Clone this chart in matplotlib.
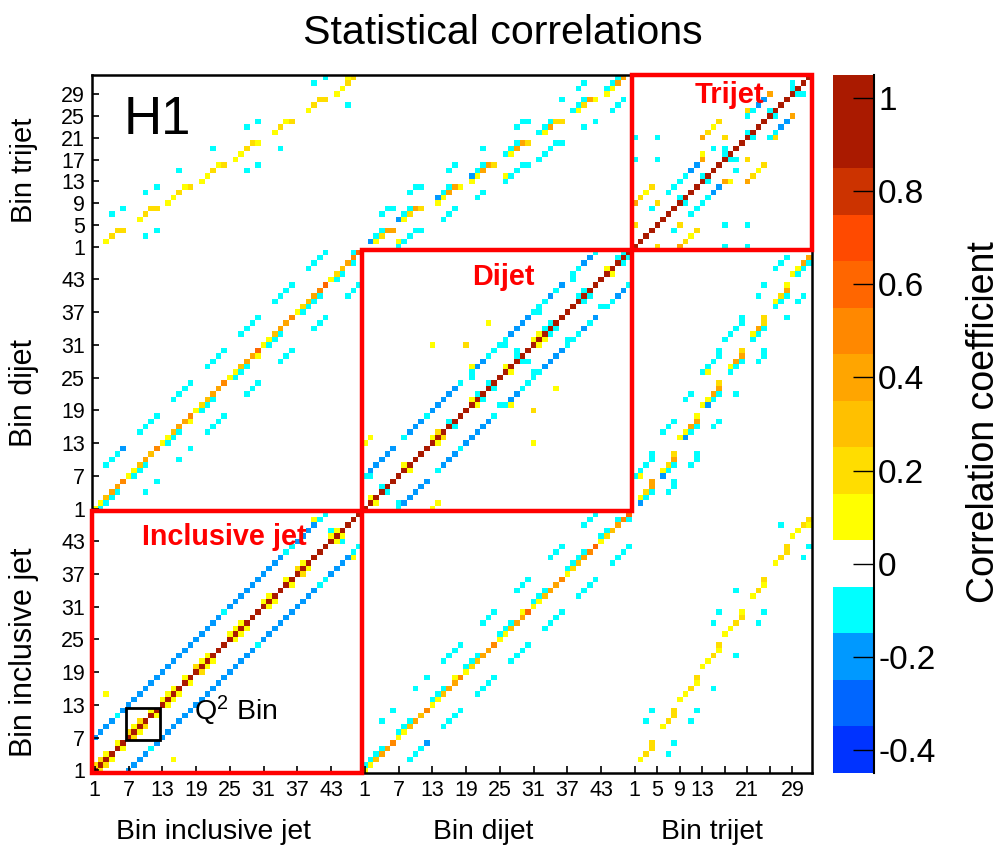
import numpy as np
import matplotlib
matplotlib.use('Agg')
import matplotlib.pyplot as plt
from matplotlib.colors import ListedColormap, BoundaryNorm
from matplotlib.patches import Rectangle

plt.rcParams['font.family'] = 'Liberation Sans'

n_inc, n_dij, n_tri = 48, 48, 32

levels = [-0.45, -0.35, -0.25, -0.15, -0.05, 0.05, 0.15, 0.25, 0.35, 0.45, 0.55, 0.65, 0.75, 0.85, 1.05]
colors = ['#0033ff', '#0066ff', '#0099ff', '#00ffff', '#ffffff', '#ffff00', '#ffdd00',
          '#ffc000', '#ffa500', '#ff8800', '#ff6600', '#ff4a00', '#cc3300', '#aa1a00']

diag_value = 1.0

# all cells are (x bin, y bin), 1-based inside their block; the matrix is symmetric

# inclusive / inclusive
ii_blue = [(1, 7), (2, 8), (3, 9), (4, 10), (6, 12), (7, 13), (8, 14), (9, 15), (10, 16), (11, 17), (12, 18),
           (13, 19), (14, 20), (15, 21), (16, 22), (17, 23), (18, 24), (19, 25), (20, 26), (21, 27), (22, 28),
           (23, 29), (25, 31), (26, 32), (27, 33), (28, 34), (29, 35), (30, 36), (31, 37), (32, 38), (33, 39),
           (34, 40), (37, 43), (38, 44), (39, 45), (40, 46)]
ii_cyan = [(5, 11), (24, 30), (35, 41), (36, 42), (41, 47), (42, 48), (43, 45)]
ii_yellow = [(3, 4), (5, 6), (8, 9), (11, 12), (13, 14), (14, 15), (15, 16), (17, 18), (20, 21), (21, 22),
             (25, 26), (26, 27), (27, 28), (31, 32), (32, 33), (35, 36), (38, 39), (43, 44), (44, 45),
             (3, 15), (40, 47)]
ii_gold = [(1, 2), (2, 3), (7, 8), (9, 10), (19, 20), (37, 38)]

# dijet / dijet
dd_blue = [(2, 8), (3, 9), (4, 10), (5, 11), (6, 12), (9, 15), (10, 16), (11, 17), (13, 19), (14, 20), (15, 21),
           (16, 22), (17, 23), (21, 27), (22, 28), (27, 33), (28, 34), (29, 35), (30, 36), (34, 40), (36, 42),
           (40, 46), (41, 47)]
dd_cyan = [(1, 7), (2, 7), (8, 14), (12, 18), (18, 24), (20, 25), (20, 26), (23, 29), (24, 30), (25, 31), (26, 31),
           (26, 32), (31, 37), (32, 37), (32, 38), (33, 39), (35, 41), (38, 43), (38, 44), (39, 45), (42, 48),
           (4, 5), (16, 17), (21, 22), (23, 24), (28, 29), (28, 30), (33, 34), (34, 35), (39, 40), (40, 41),
           (46, 47), (47, 48)]
dd_yellow = [(2, 3), (8, 9), (13, 14), (20, 21), (26, 27), (31, 32), (32, 33), (44, 45),
             (2, 14), (1, 13), (20, 27), (23, 35), (13, 31)]
dd_gold = [(14, 15), (19, 31)]

# trijet / trijet
tt_blue = [(11, 15), (12, 16), (23, 27), (24, 28)]
tt_cyan = [(4, 8), (7, 11), (8, 12), (9, 13), (10, 14), (9, 10), (13, 14), (15, 19), (17, 18), (17, 19), (21, 22),
           (21, 25), (22, 26), (25, 26), (29, 30), (29, 31), (1, 17), (5, 17), (1, 21), (5, 21)]
tt_yellow = [(3, 11), (15, 23), (13, 18)]
tt_gold = [(1, 5), (5, 9), (2, 10), (4, 12), (14, 22), (16, 24), (17, 21), (21, 26)]
tt_orange = [(1, 9), (13, 17), (13, 21), (25, 29)]

# x = dijet, y = inclusive
id_diag = [0.1, 0.1, 0.3, 0.4, 0.4, 0.5, 0.1, 0.1, 0.3, 0.35, 0.3, 0.5, 0.1, 0.1, 0.3, 0.35, 0.4, 0.5,
           0.1, 0.2, 0.3, 0.4, 0.4, 0.5, 0.1, 0.1, 0.3, 0.35, 0.4, 0.55, 0.1, 0.1, 0.3, 0.35, 0.4, 0.5,
           0.1, 0.2, 0.3, 0.35, 0.5, 0.6, 0.1, 0.2, 0.3, 0.4, 0.5, 0.6]
id_blue = [(12, 6)]
id_yellow = [(17, 18), (29, 30)]
id_cyan = [(1, 2), (2, 3), (3, 4), (4, 5), (7, 8), (8, 9), (9, 10), (13, 14), (14, 15), (15, 16), (19, 20), (20, 21),
           (21, 22), (25, 26), (26, 27), (27, 28), (31, 32), (32, 33), (33, 34), (37, 38), (38, 39), (39, 40), (40, 41),
           (43, 44), (44, 45), (46, 47), (48, 47),
           (9, 3), (10, 4), (11, 5), (4, 10), (6, 12), (15, 9), (16, 10), (17, 11), (18, 12), (10, 16), (12, 18),
           (21, 15), (22, 16), (23, 17), (24, 18), (15, 21), (16, 22), (17, 23), (18, 24), (27, 21), (28, 22), (29, 23),
           (30, 24), (22, 28), (23, 29), (24, 30), (33, 27), (34, 28), (35, 29), (36, 30), (28, 34), (29, 35), (30, 36),
           (39, 33), (40, 34), (41, 35), (42, 36), (34, 40), (35, 41), (36, 42), (45, 39), (46, 40), (47, 41), (48, 42),
           (40, 46), (41, 47), (42, 48)]

# x = trijet, y = inclusive
it_yellow = [(2, 3), (6, 9), (9, 14), (10, 15), (12, 17), (13, 20), (14, 21), (16, 23), (17, 26), (18, 27), (20, 30),
             (22, 33), (24, 35), (26, 39), (29, 44), (30, 45), (32, 46)]
it_gold = [(3, 4), (4, 5), (4, 6), (7, 10), (8, 11), (8, 12), (11, 16), (12, 18), (15, 22), (16, 24), (19, 28), (20, 29),
           (23, 34), (24, 36), (27, 40), (28, 41), (28, 42), (31, 46), (32, 47)]
it_cyan = [(7, 4), (8, 6), (3, 10), (4, 12), (11, 10), (12, 12), (15, 16), (19, 22), (15, 28), (16, 30), (23, 28), (24, 30),
           (19, 34), (31, 40), (32, 42), (27, 46)]

# x = trijet, y = dijet
dt_blue = [(2, 2), (6, 7), (10, 14), (14, 20)]
dt_yellow = [(2, 3), (6, 8), (2, 7), (9, 14), (10, 15), (12, 18), (13, 20), (14, 21), (14, 26), (18, 27), (22, 33), (26, 39),
             (28, 42), (29, 44), (30, 45)]
dt_gold = [(3, 4), (7, 9), (8, 11), (16, 24), (20, 30), (24, 35), (24, 36), (27, 40)]
dt_amber = [(4, 5), (4, 6), (8, 10), (11, 16), (12, 17), (15, 22), (16, 23), (19, 28), (20, 29), (23, 34), (28, 41), (31, 46), (32, 47)]
dt_cyan = [(3, 3), (4, 4), (7, 4), (8, 5), (8, 6), (7, 8), (8, 9), (1, 7), (2, 8), (3, 9), (4, 10), (4, 11), (11, 9), (12, 10),
           (12, 11), (11, 15), (12, 16), (6, 15), (7, 16), (8, 17), (15, 16), (16, 17), (15, 21), (16, 22), (10, 21), (11, 22),
           (19, 22), (13, 26), (14, 27), (15, 28), (16, 29), (16, 30), (18, 26), (19, 27), (20, 28), (23, 28), (24, 29), (24, 30),
           (17, 32), (18, 33), (19, 34), (20, 35), (20, 36), (22, 32), (23, 33), (24, 34), (28, 36), (26, 38), (27, 39), (28, 40),
           (23, 40), (24, 42), (30, 39), (31, 40), (30, 44), (31, 45), (32, 46), (26, 45), (27, 46), (28, 47)]

inc_ticks = [1, 7, 13, 19, 25, 31, 37, 43]
dij_ticks = [1, 7, 13, 19, 25, 31, 37, 43]
tri_ticks = [1, 5, 9, 13, 17, 21, 25, 29]
tri_xlabels = ['1', '5', '9', '13', '', '21', '', '29']
tri_ylabels = ['1', '5', '9', '13', '17', '21', '25', '29']
cbar_ticks = [-0.4, -0.2, 0, 0.2, 0.4, 0.6, 0.8, 1]
cbar_labels = ['-0.4', '-0.2', '0', '0.2', '0.4', '0.6', '0.8', '1']

n = n_inc + n_dij + n_tri
matrix = np.zeros((n, n))


def put(cells, value, off_x=0, off_y=0):
    for x, y in cells:
        matrix[off_y + y - 1, off_x + x - 1] = value
        matrix[off_x + x - 1, off_y + y - 1] = value


d0, t0 = n_inc, n_inc + n_dij

put(ii_blue, -0.2)
put(ii_cyan, -0.1)
put(ii_yellow, 0.1)
put(ii_gold, 0.2)

put(dd_blue, -0.2, d0, d0)
put(dd_cyan, -0.1, d0, d0)
put(dd_yellow, 0.1, d0, d0)
put(dd_gold, 0.2, d0, d0)

put(tt_blue, -0.2, t0, t0)
put(tt_cyan, -0.1, t0, t0)
put(tt_yellow, 0.1, t0, t0)
put(tt_gold, 0.2, t0, t0)
put(tt_orange, 0.4, t0, t0)

for i, v in enumerate(id_diag):
    put([(i + 1, i + 1)], v, d0, 0)
put(id_blue, -0.2, d0, 0)
put(id_yellow, 0.1, d0, 0)
put(id_cyan, -0.1, d0, 0)

put(it_yellow, 0.1, t0, 0)
put(it_gold, 0.2, t0, 0)
put(it_cyan, -0.1, t0, 0)

put(dt_blue, -0.2, t0, d0)
put(dt_yellow, 0.1, t0, d0)
put(dt_gold, 0.2, t0, d0)
put(dt_amber, 0.35, t0, d0)
put(dt_cyan, -0.1, t0, d0)

np.fill_diagonal(matrix, diag_value)

W, H = 1001, 848
fig = plt.figure(figsize=(W / 100, H / 100), dpi=100)
ax = fig.add_axes([92 / W, 1 - 773 / H, 720 / W, 698 / H])
cax = fig.add_axes([833 / W, 1 - 773 / H, 41 / W, 698 / H])

cmap = ListedColormap(colors)
norm = BoundaryNorm(levels, cmap.N)
edges = np.arange(n + 1)
mesh = ax.pcolormesh(edges, edges, matrix, cmap=cmap, norm=norm)
ax.set_xlim(0, n)
ax.set_ylim(0, n)

positions = [t - 0.5 for t in inc_ticks] + [d0 + t - 0.5 for t in dij_ticks] + [t0 + t - 0.5 for t in tri_ticks]
ax.set_xticks(positions)
ax.set_xticklabels([str(t) for t in inc_ticks] + [str(t) for t in dij_ticks] + tri_xlabels)
ax.set_yticks(positions)
ax.set_yticklabels([str(t) for t in inc_ticks] + [str(t) for t in dij_ticks] + tri_ylabels)
ax.tick_params(direction='in', length=5, width=1.2, labelsize=15.5, pad=5, top=False, right=False)
for s in ax.spines.values():
    s.set_linewidth(1.8)

# block outlines
for x0, y0, size in [(0, 0, n_inc), (d0, d0, n_dij), (t0, t0, n_tri)]:
    ax.add_patch(Rectangle((x0, y0), size, size, fill=False, edgecolor='#ff0000', linewidth=3.2, clip_on=False, zorder=5))
ax.add_patch(Rectangle((6, 6), 6, 6, fill=False, edgecolor='black', linewidth=2, zorder=5))

ax.text(0.0445, 0.935, 'H1', transform=ax.transAxes, fontsize=38, va='center', ha='left')
ax.text(23.6, 43.3, 'Inclusive jet', color='#ff0000', fontsize=20.7, fontweight='bold', ha='center', va='center', zorder=6)
ax.text(73.2, 91, 'Dijet', color='#ff0000', fontsize=20.7, fontweight='bold', ha='center', va='center', zorder=6)
ax.text(113.3, 124.3, 'Trijet', color='#ff0000', fontsize=21, fontweight='bold', ha='center', va='center', zorder=6)
ax.text(18.2, 11.3, r'Q$\mathregular{^2}$ Bin', fontsize=20.5, ha='left', va='center')

fig.text(503 / W, 1 - 33 / H, 'Statistical correlations', fontsize=29.6, ha='center', va='center')
fig.text(213 / W, 1 - 832 / H, 'Bin inclusive jet', fontsize=20.3, ha='center', va='center')
fig.text(483 / W, 1 - 832 / H, 'Bin dijet', fontsize=20.3, ha='center', va='center')
fig.text(712 / W, 1 - 832 / H, 'Bin trijet', fontsize=20.3, ha='center', va='center')
fig.text(24 / W, 1 - 652 / H, 'Bin inclusive jet', fontsize=22, ha='center', va='center', rotation=90)
fig.text(24 / W, 1 - 393 / H, 'Bin dijet', fontsize=22, ha='center', va='center', rotation=90)
fig.text(24 / W, 1 - 170 / H, 'Bin trijet', fontsize=21, ha='center', va='center', rotation=90)

cbar = fig.colorbar(mesh, cax=cax, spacing='proportional', ticks=cbar_ticks, drawedges=False)
cbar.ax.minorticks_off()
cbar.ax.set_yticklabels(cbar_labels)
cbar.ax.tick_params(direction='in', length=15, width=1, labelsize=24, pad=3, left=False, right=True)
cbar.outline.set_visible(False)
cbar.ax.axvline(1, color='black', lw=1.5, clip_on=False)
fig.text(984 / W, 1 - 422 / H, 'Correlation coefficient', fontsize=27, ha='center', va='center', rotation=90)

fig.savefig('out.png', dpi=100)
